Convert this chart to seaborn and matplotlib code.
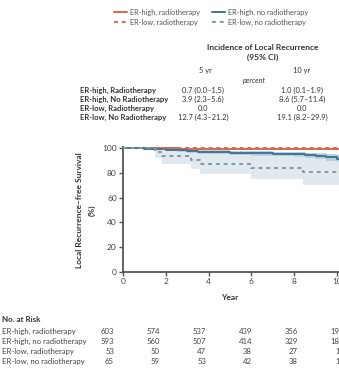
import numpy as np
import pandas as pd
import matplotlib
matplotlib.use("Agg")
import matplotlib.pyplot as plt
from matplotlib.lines import Line2D
import seaborn as sns

# ---------------- data ----------------
groups = ["ER-high, radiotherapy", "ER-high, no radiotherapy",
          "ER-low, radiotherapy", "ER-low, no radiotherapy"]

t_hi_rt = [0, 0.8, 1.6, 2.6, 3.8, 5.0, 6.5, 8.0, 10.5]
s_hi_rt = [100, 99.9, 99.7, 99.5, 99.4, 99.3, 99.1, 99.0, 99.0]
lo_hi_rt = [100, 99.5, 99.1, 98.8, 98.6, 98.5, 98.3, 98.1, 98.1]
up_hi_rt = [100, 100, 100, 100, 100, 100, 99.9, 99.9, 99.9]

t_hi_no = [0, 0.5, 1.0, 1.5, 2.0, 2.5, 3.0, 3.5, 4.0, 5.0, 6.0, 7.0, 8.0, 8.5, 9.0, 9.5, 10.0, 10.5]
s_hi_no = [100, 99.8, 99.5, 99.0, 98.6, 98.0, 97.4, 96.9, 96.5, 96.1, 95.6, 95.2, 94.8, 94.0, 93.3, 92.5, 91.4, 91.4]
lo_hi_no = [100, 99.4, 98.9, 98.2, 97.6, 96.9, 96.1, 95.5, 95.0, 94.4, 93.8, 93.2, 92.6, 91.7, 90.8, 89.9, 88.6, 88.6]
up_hi_no = [100, 100, 100, 99.7, 99.5, 99.1, 98.7, 98.3, 98.0, 97.7, 97.4, 97.1, 96.8, 96.2, 95.7, 95.1, 94.3, 94.3]

t_lo_rt = [0, 10.5]
s_lo_rt = [100, 100]

t_lo_no = [0, 1.5, 1.8, 3.2, 3.6, 6.0, 8.4, 10.5]
s_lo_no = [100, 97.0, 93.8, 90.6, 87.3, 84.1, 80.9, 80.9]
lo_lo_no = [100, 92.0, 87.0, 83.0, 78.8, 75.0, 70.1, 70.1]
up_lo_no = [100, 100, 99.5, 98.0, 95.7, 93.5, 91.8, 91.8]

inc_rows = ["ER-high, Radiotherapy", "ER-high, No Radiotherapy",
            "ER-low, Radiotherapy", "ER-low, No Radiotherapy"]
inc_5yr = ["0.7 (0.0\u20131.5)", "3.9 (2.3\u20135.6)", "0.0", "12.7 (4.3\u201321.2)"]
inc_10yr = ["1.0 (0.1\u20131.9)", "8.6 (5.7\u201311.4)", "0.0", "19.1 (8.2\u201329.9)"]

risk_years = [0, 2, 4, 6, 8, 10]
risk_hi_rt = [603, 574, 537, 439, 356, 197]
risk_hi_no = [593, 560, 507, 414, 329, 186]
risk_lo_rt = [53, 50, 47, 38, 27, 14]
risk_lo_no = [65, 59, 53, 42, 38, 16]

xticks = [0, 2, 4, 6, 8, 10]
yticks = [0, 20, 40, 60, 80, 100]

# ---------------- style ----------------
sns.set_style("ticks")
plt.rcParams["font.family"] = ["Lato", "DejaVu Sans"]

RED = "#d9674f"
BLUE = "#3d7694"
BLUE_LO = "#7f98a8"
TXT = "#333333"

W, H = 339, 371
fig = plt.figure(figsize=(W / 100, H / 100), dpi=100)

def fx(x):
    return x / W

def fy(y):
    return 1 - y / H

# axes: x=0 at px 123, x=10 at px 337 ; y=0 at px 272, y=100 at px 148
x0, x10 = 123, 337
y0, y100 = 272, 148
xmax = 10.5
ymax = 101
ppx = (x10 - x0) / 10
ppy = (y0 - y100) / 100
ax = fig.add_axes([fx(x0), 1 - y0 / H, ppx * xmax / W, ppy * ymax / H])

df = pd.concat([
    pd.DataFrame({"t": t_hi_rt, "s": s_hi_rt, "g": groups[0]}),
    pd.DataFrame({"t": t_hi_no, "s": s_hi_no, "g": groups[1]}),
    pd.DataFrame({"t": t_lo_rt, "s": s_lo_rt, "g": groups[2]}),
    pd.DataFrame({"t": t_lo_no, "s": s_lo_no, "g": groups[3]}),
], ignore_index=True)

ax.fill_between(t_lo_no, lo_lo_no, up_lo_no, step="post", color="#e1e9ef", lw=0, zorder=1)
ax.fill_between(t_hi_no, lo_hi_no, up_hi_no, step="post", color="#b9d0de", lw=0, zorder=2)
ax.fill_between(t_hi_rt, lo_hi_rt, up_hi_rt, step="post", color="#f3c9bd", lw=0, zorder=2)

palette = {groups[0]: RED, groups[1]: BLUE, groups[2]: RED, groups[3]: BLUE_LO}
dashes = {groups[0]: "", groups[1]: "", groups[2]: (2, 2), groups[3]: (2, 2)}
sns.lineplot(data=df, x="t", y="s", hue="g", style="g", hue_order=groups,
             style_order=groups, palette=palette, dashes=dashes,
             drawstyle="steps-post", estimator=None, sort=False,
             linewidth=1.4, legend=False, ax=ax, zorder=3)

ax.set_xlim(0, xmax)
ax.set_ylim(0, ymax)
ax.set_xticks(xticks)
ax.set_yticks(yticks)
ax.set_xlabel("")
ax.set_ylabel("")
for side in ["top", "right"]:
    ax.spines[side].set_visible(False)
for side in ["left", "bottom"]:
    ax.spines[side].set_color("#555555")
    ax.spines[side].set_linewidth(1.3)
ax.tick_params(axis="both", direction="out", length=3, width=1.0, color="#555555",
               labelsize=6, labelcolor="#444444", pad=1.5)

# y label
fig.text(fx(79), fy(210), "Local Recurrence\u2013free Survival", rotation=90,
         ha="center", va="center", fontsize=6, fontweight="bold", color=TXT)
fig.text(fx(92), fy(210), "(%)", rotation=90, ha="center", va="center",
         fontsize=6, fontweight="bold", color=TXT)
fig.text(fx(230), fy(297), "Year", ha="center", va="center",
         fontsize=6, fontweight="bold", color=TXT)

# legend
leg_items = [
    (114, 12, RED, "-", groups[0]),
    (212, 12, BLUE, "-", groups[1]),
    (114, 22, RED, (0, (2, 2)), groups[2]),
    (212, 22, BLUE_LO, (0, (2, 2)), groups[3]),
]
for lx, ly, c, ls, lab in leg_items:
    fig.add_artist(Line2D([fx(lx), fx(lx + 13)], [fy(ly), fy(ly)], color=c,
                          linestyle=ls, linewidth=1.4, transform=fig.transFigure))
    fig.text(fx(lx + 16), fy(ly), lab, ha="left", va="center", fontsize=5.3,
             color="#555555")

# incidence table
fig.text(fx(263), fy(47), "Incidence of Local Recurrence", ha="center", va="center",
         fontsize=6, fontweight="bold", color=TXT)
fig.text(fx(263), fy(57), "(95% CI)", ha="center", va="center",
         fontsize=6, fontweight="bold", color=TXT)
fig.text(fx(205), fy(70), "5 yr", ha="center", va="center", fontsize=5.4, color=TXT)
fig.text(fx(302), fy(70), "10 yr", ha="center", va="center", fontsize=5.4, color=TXT)
fig.text(fx(255), fy(80), "percent", ha="center", va="center", fontsize=5.2,
         style="italic", color=TXT)
for i, (rl, v5, v10) in enumerate(zip(inc_rows, inc_5yr, inc_10yr)):
    yy = 90 + i * 9.3
    fig.text(fx(80), fy(yy), rl, ha="left", va="center", fontsize=5.5,
             fontweight="bold", color=TXT)
    fig.text(fx(203), fy(yy), v5, ha="center", va="center", fontsize=5.4, color=TXT)
    fig.text(fx(302), fy(yy), v10, ha="center", va="center", fontsize=5.4, color=TXT)

# number at risk
fig.text(fx(2), fy(320), "No. at Risk", ha="left", va="center", fontsize=5.8,
         fontweight="bold", color=TXT)
risk_x = [114, 160, 206, 252, 298, 344]
for i, (lab, vals) in enumerate(zip(groups, [risk_hi_rt, risk_hi_no, risk_lo_rt, risk_lo_no])):
    yy = 331 + i * 10
    fig.text(fx(2), fy(yy), lab, ha="left", va="center", fontsize=5.6, color="#444444")
    for rx, v in zip(risk_x, vals):
        fig.text(fx(rx), fy(yy), str(v), ha="right", va="center", fontsize=5.6,
                 color="#444444")

fig.savefig("out.png", dpi=100)
